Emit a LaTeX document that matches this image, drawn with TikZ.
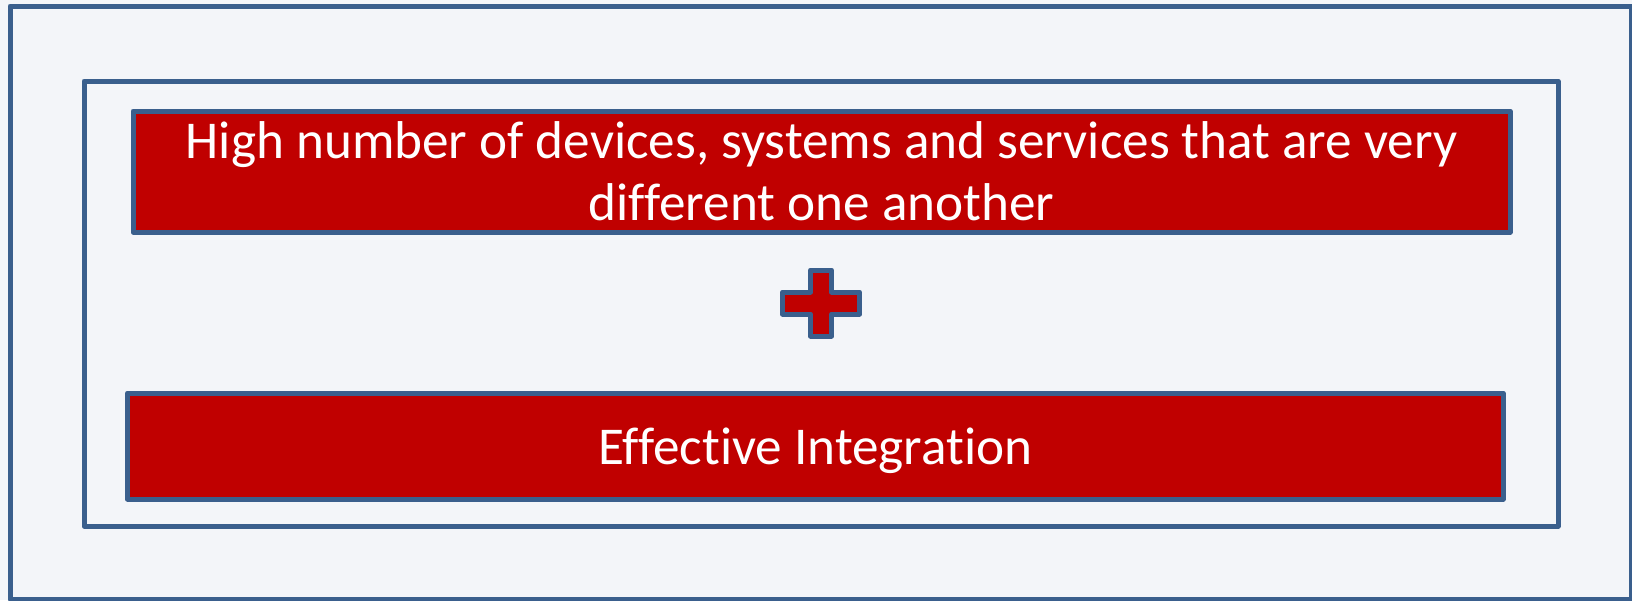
\documentclass[tikz,border=0pt]{standalone}
\usepackage{fontspec}
\setmainfont{Carlito}[Ligatures={NoCommon}]
\usepackage{xcolor}
\usepackage{tikz}

\definecolor{edgeblue}{HTML}{3A5F8D}
\definecolor{boxred}{HTML}{C00000}
\definecolor{paper}{HTML}{F3F5F9}

\begin{document}
\begin{tikzpicture}[x=0.5pt, y=-0.5pt, line join=round,
    frame/.style = {draw=edgeblue, line width=2.5pt, inner sep=0pt},
    redbox/.style = {frame, fill=boxred, text=white, align=center,
        font=\fontsize{26.6}{31}\selectfont},
    bar/.style = {draw=edgeblue, line width=2.5pt, fill=boxred}]
    \useasboundingbox[fill=paper] (0,0) rectangle (1632,600);

    \node[frame, minimum width=810.5pt, minimum height=296.5pt] (outer) at (820.5,302.5) {};
    \node[frame, minimum width=737pt, minimum height=222.5pt] (inner) at (821,303.5) {};
    \node[redbox, minimum width=688.5pt, minimum height=60.5pt] (devices) at (821.5,171.5)
        {High number of devices, systems and services that are very\\different one another};
    \node[redbox, text depth=0pt, minimum width=687.75pt, minimum height=53pt] (integration) at (815.25,446)
        {Effective Integration};

    \coordinate (plus) at (821,303);
    \draw[bar, shift={(plus)}] (-10.5,-33) -- (10.5,-33) -- (10.5,-11) -- (38.5,-11)
        -- (38.5,11) -- (10.5,11) -- (10.5,33) -- (-10.5,33) -- (-10.5,11)
        -- (-38.5,11) -- (-38.5,-11) -- (-10.5,-11) -- cycle;
\end{tikzpicture}
\end{document}
